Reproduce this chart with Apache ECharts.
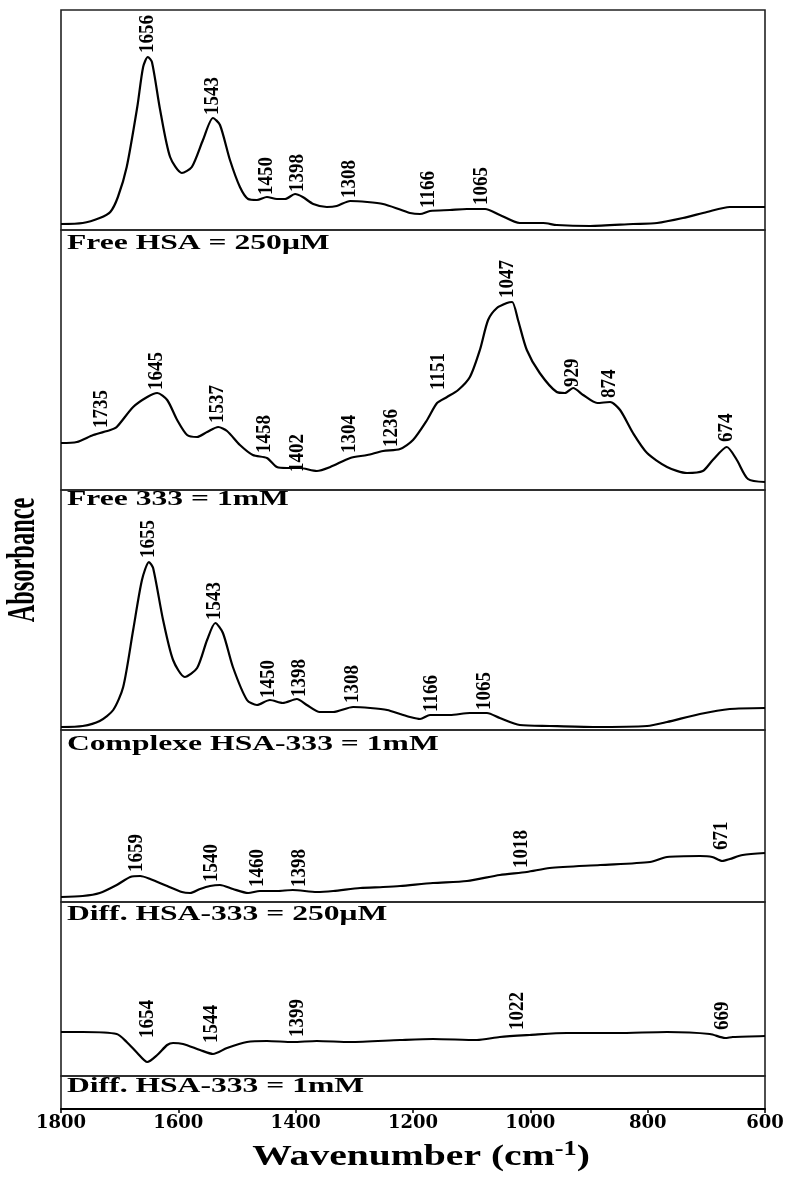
<!DOCTYPE html>
<html>
<head>
<meta charset="utf-8">
<script src="https://cdn.jsdelivr.net/npm/echarts@6/dist/echarts.min.js"></script>
<style>html,body{margin:0;padding:0;background:#fff}#c{width:800px;height:1177px}</style>
</head>
<body>
<div id="c"></div>
<script>
// ---- Data (wavenumber in cm-1, absorbance in arbitrary units, per panel) ----
const xTicks = [1800, 1600, 1400, 1200, 1000, 800, 600];

const hsaWn  = [1800,1763,1734,1716,1703,1688,1670,1660,1652,1645,1631,1614,1594,1577,1558,1541,1529,1512,1495,1481,1466,1449,1432,1418,1401,1388,1370,1347,1330,1307,1278,1251,1222,1205,1188,1171,1137,1108,1077,1052,1018,978,955,898,825,784,740,699,660,600];
const hsaAbs = [0.06,0.07,0.12,0.18,0.33,0.63,1.23,1.63,1.73,1.68,1.20,0.73,0.57,0.63,0.90,1.12,1.05,0.70,0.43,0.31,0.30,0.33,0.31,0.31,0.36,0.33,0.26,0.23,0.24,0.29,0.28,0.26,0.205,0.17,0.16,0.19,0.20,0.21,0.21,0.15,0.07,0.07,0.05,0.04,0.06,0.07,0.12,0.18,0.23,0.23];

const lig333Wn  = [1800,1773,1745,1716,1705,1677,1653,1636,1619,1602,1585,1568,1551,1532,1517,1495,1473,1449,1432,1415,1393,1364,1341,1307,1278,1251,1222,1200,1176,1159,1142,1123,1103,1086,1072,1057,1040,1031,1021,1006,984,955,941,927,910,886,864,847,825,801,767,733,706,689,665,648,629,600];
const lig333Abs = [0.47,0.48,0.55,0.60,0.63,0.83,0.93,0.97,0.90,0.70,0.55,0.53,0.58,0.63,0.59,0.45,0.35,0.32,0.23,0.22,0.22,0.19,0.23,0.32,0.35,0.39,0.41,0.50,0.70,0.87,0.93,1.00,1.13,1.40,1.70,1.82,1.87,1.88,1.70,1.40,1.17,0.98,0.97,1.02,0.95,0.87,0.88,0.80,0.57,0.37,0.23,0.17,0.19,0.30,0.43,0.30,0.11,0.08];

const complexWn  = [1800,1763,1734,1711,1694,1677,1662,1650,1643,1626,1609,1589,1568,1551,1537,1524,1507,1483,1466,1444,1422,1398,1381,1359,1336,1302,1273,1244,1222,1205,1188,1171,1137,1103,1074,1052,1018,967,893,801,767,711,660,600];
const complexAbs = [0.03,0.04,0.09,0.20,0.43,1.00,1.50,1.68,1.62,1.10,0.70,0.53,0.62,0.90,1.07,0.97,0.63,0.30,0.25,0.30,0.27,0.31,0.25,0.18,0.18,0.23,0.22,0.20,0.16,0.13,0.11,0.15,0.15,0.17,0.17,0.12,0.05,0.04,0.03,0.04,0.08,0.16,0.21,0.22];

const diff250Wn  = [1800,1763,1734,1705,1682,1665,1648,1619,1594,1580,1563,1546,1529,1507,1481,1461,1432,1405,1364,1336,1290,1251,1222,1166,1108,1052,1006,967,881,796,767,711,690,673,660,638,600];
const diff250Abs = [0.05,0.06,0.09,0.17,0.25,0.26,0.23,0.16,0.10,0.09,0.13,0.16,0.17,0.13,0.09,0.11,0.11,0.12,0.10,0.11,0.14,0.15,0.16,0.19,0.21,0.27,0.30,0.34,0.37,0.40,0.45,0.46,0.45,0.41,0.43,0.47,0.49];

const diff1mWn  = [1800,1763,1705,1688,1670,1653,1636,1619,1609,1592,1563,1541,1517,1483,1449,1405,1364,1307,1222,1166,1091,1052,1001,938,852,767,694,668,655,600];
const diff1mAbs = [0.44,0.44,0.42,0.34,0.23,0.14,0.21,0.31,0.33,0.32,0.26,0.22,0.28,0.34,0.35,0.34,0.35,0.34,0.36,0.37,0.36,0.39,0.41,0.43,0.43,0.44,0.42,0.38,0.39,0.40];

// Peak annotations: label text, wavenumber where it sits, absorbance at its foot
const hsaPeakText = ['1656','1543','1450','1398','1308','1166','1065'];
const hsaPeakWn   = [1652,1541,1449,1396,1307,1173,1082];
const hsaPeakAbs  = [1.77,1.15,0.35,0.38,0.32,0.22,0.25];

const ligPeakText = ['1735','1645','1537','1458','1402','1304','1236','1151','1047','929','874','674'];
const ligPeakWn   = [1730,1636,1532,1452,1396,1307,1236,1156,1038,927,864,665];
const ligPeakAbs  = [0.62,1.00,0.67,0.37,0.18,0.37,0.43,1.00,1.92,1.03,0.92,0.48];

const cpxPeakText = ['1655','1543','1450','1398','1308','1166','1065'];
const cpxPeakWn   = [1650,1538,1445,1393,1302,1168,1077];
const cpxPeakAbs  = [1.72,1.10,0.32,0.33,0.27,0.18,0.20];

const d250PeakText = ['1659','1540','1460','1398','1018','671'];
const d250PeakWn   = [1670,1543,1464,1393,1014,673];
const d250PeakAbs  = [0.30,0.20,0.15,0.15,0.34,0.52];

const d1mPeakText = ['1654','1544','1399','1022','669'];
const d1mPeakWn   = [1652,1543,1396,1021,672];
const d1mPeakAbs  = [0.38,0.33,0.39,0.46,0.46];

const panelNames = ['Free HSA = 250\u03bcM','Free 333 = 1mM','Complexe HSA-333 = 1mM','Diff. HSA-333 = 250\u03bcM','Diff. HSA-333 = 1mM'];

// ---- Layout ----
const gridTops    = [10, 230, 490, 730, 902, 1076];
const gridHeights = [220, 260, 240, 172, 174, 33];
const yMax        = [2.2, 2.6, 2.4, 1.72, 1.74, 1];
const labelY      = [244, 500, 745, 915, 1087];

const spectra = [
  [hsaWn, hsaAbs], [lig333Wn, lig333Abs], [complexWn, complexAbs], [diff250Wn, diff250Abs], [diff1mWn, diff1mAbs]
];
const peaks = [
  [hsaPeakText, hsaPeakWn, hsaPeakAbs], [ligPeakText, ligPeakWn, ligPeakAbs], [cpxPeakText, cpxPeakWn, cpxPeakAbs],
  [d250PeakText, d250PeakWn, d250PeakAbs], [d1mPeakText, d1mPeakWn, d1mPeakAbs]
];

const grids = [], xAxes = [], yAxes = [], series = [];
for (let i = 0; i < 6; i++) {
  grids.push({left: 61, right: 35, top: gridTops[i], height: gridHeights[i], show: true,
    borderColor: '#222', borderWidth: 1.6, backgroundColor: 'transparent'});
  const last = (i === 5);
  xAxes.push({type: 'value', gridIndex: i, min: 600, max: 1800, interval: 200, inverse: true,
    axisLine: {show: last, lineStyle: {color: '#000', width: 2}},
    axisTick: {show: last, inside: false, length: 4, lineStyle: {color: '#000', width: 1.5}},
    axisLabel: {show: last, color: '#000', fontFamily: 'DejaVu Serif', fontWeight: 'bold', fontSize: 18, margin: 5,
      formatter: v => (xTicks.indexOf(v) >= 0 ? String(v) : '')},
    splitLine: {show: false}});
  yAxes.push({type: 'value', gridIndex: i, min: 0, max: yMax[i], show: false, splitLine: {show: false}});
}

spectra.forEach(([wn, ab], i) => {
  series.push({type: 'line', xAxisIndex: i, yAxisIndex: i, data: wn.map((w, k) => [w, ab[k]]),
    symbol: 'none', smooth: 0.25, lineStyle: {color: '#000', width: 2.2}, silent: true});
});

peaks.forEach(([txt, wn, ab], i) => {
  series.push({type: 'custom', xAxisIndex: i, yAxisIndex: i, clip: false, silent: true,
    data: wn.map((w, k) => [w, ab[k]]),
    renderItem: function (params, api) {
      const p = api.coord([api.value(0), api.value(1)]);
      return {type: 'text', x: p[0], y: p[1], rotation: Math.PI / 2, scaleX: 0.95,
        style: {text: txt[params.dataIndex], font: 'bold 20px "Liberation Serif"', fill: '#000',
          align: 'left', verticalAlign: 'middle'}};
    }});
});

const graphic = [
  {type: 'text', x: 24, y: 560, rotation: Math.PI / 2, scaleX: 0.61, silent: true,
    style: {text: 'Absorbance', font: 'bold 40px "Liberation Serif"', fill: '#000', align: 'center', verticalAlign: 'middle'}},
  {type: 'text', x: 421, y: 1157, scaleX: 1.32, silent: true,
    style: {text: '{a|Wavenumber (cm}{s|-1}{a|)}', align: 'center', verticalAlign: 'middle', fill: '#000',
      rich: {a: {font: 'bold 30px "Liberation Serif"', fill: '#000', lineHeight: 34},
             s: {font: 'bold 20px "Liberation Serif"', fill: '#000', lineHeight: 20, verticalAlign: 'top'}}}}
];
panelNames.forEach((n, i) => {
  graphic.push({type: 'text', x: 67, y: labelY[i], scaleX: 1.58, silent: true,
    style: {text: n, font: 'bold 20px "Liberation Serif"', fill: '#000', align: 'left', verticalAlign: 'middle'}});
});

const chart = echarts.init(document.getElementById('c'), null, {renderer: 'canvas'});
chart.setOption({animation: false, backgroundColor: '#fff', grid: grids, xAxis: xAxes, yAxis: yAxes, series: series, graphic: graphic});
</script>
</body>
</html>
